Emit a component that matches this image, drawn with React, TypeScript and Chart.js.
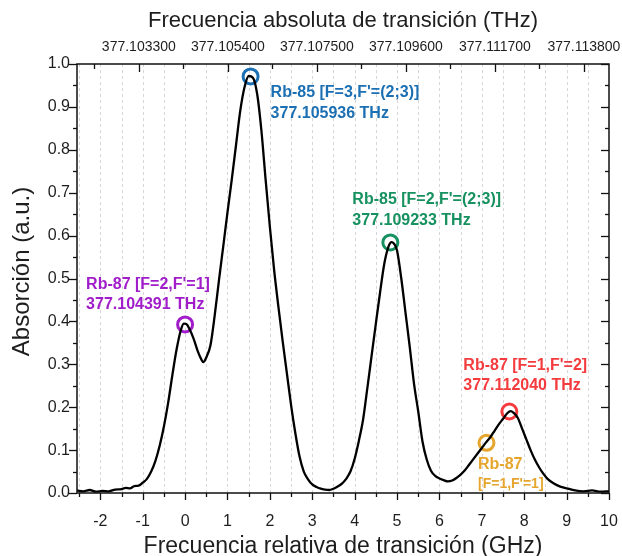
import { useEffect, useRef } from "react";
import { Chart, registerables } from "chart.js";

Chart.register(...registerables);

const FONT = "'Liberation Sans', Arial, Helvetica, sans-serif";
const INK = "#1e1e1e";

// Reference transition: Rb-87 F=2 -> F'=1 sits at 0 GHz on the relative axis.
const REF_THZ = 377.104391;
const toRelGHz = (thz: number) => (thz - REF_THZ) * 1000;

// Absorption spectrum (relative frequency in GHz, absorption in a.u.)
const relFreqGHz = [
  -2.55, -2.4, -2.25, -2.1, -1.95, -1.8, -1.65, -1.5, -1.4, -1.3, -1.2, -1.1,
  -1.0, -0.9, -0.8, -0.7, -0.6, -0.5, -0.4, -0.3, -0.2, -0.1, -0.03, 0.03,
  0.1, 0.2, 0.3, 0.38, 0.43, 0.5, 0.6, 0.7, 0.8, 0.9, 1.0, 1.1, 1.2, 1.3,
  1.4, 1.5, 1.6, 1.7, 1.8, 1.9, 2.0, 2.1, 2.2, 2.3, 2.4, 2.5, 2.6, 2.7, 2.8,
  2.9, 3.0, 3.1, 3.2, 3.3, 3.4, 3.5, 3.6, 3.7, 3.8, 3.9, 4.0, 4.1, 4.2, 4.3,
  4.4, 4.5, 4.6, 4.7, 4.8, 4.87, 4.95, 5.0, 5.1, 5.2, 5.3, 5.4, 5.5, 5.6,
  5.7, 5.8, 5.9, 6.0, 6.1, 6.2, 6.3, 6.4, 6.5, 6.6, 6.7, 6.8, 6.9, 7.0, 7.1,
  7.2, 7.3, 7.4, 7.5, 7.6, 7.68, 7.75, 7.85, 7.95, 8.05, 8.15, 8.25, 8.35,
  8.45, 8.55, 8.7, 8.85, 9.0, 9.2, 9.4, 9.6, 9.8, 10.0,
];
const absorption = [
  0.006, 0.004, 0.007, 0.003, 0.005, 0.004, 0.008, 0.009, 0.012, 0.011, 0.016, 0.017,
  0.024, 0.033, 0.05, 0.075, 0.11, 0.155, 0.21, 0.275, 0.335, 0.38, 0.395, 0.394,
  0.383, 0.36, 0.33, 0.312, 0.305, 0.316, 0.345, 0.415, 0.497, 0.575, 0.654, 0.73, 0.81, 0.89,
  0.945, 0.972, 0.968, 0.93, 0.845, 0.73, 0.62, 0.52, 0.435, 0.355, 0.28, 0.205, 0.14, 0.085, 0.05,
  0.032, 0.02, 0.014, 0.01, 0.008, 0.007, 0.01, 0.015, 0.022, 0.033, 0.05, 0.08, 0.122, 0.172, 0.245,
  0.32, 0.395, 0.468, 0.535, 0.575, 0.585, 0.578, 0.565, 0.5, 0.42, 0.34, 0.255, 0.19, 0.12,
  0.078, 0.052, 0.04, 0.034, 0.03, 0.027, 0.029, 0.035, 0.043, 0.053, 0.066, 0.079, 0.092, 0.105, 0.118,
  0.13, 0.145, 0.16, 0.173, 0.186, 0.191, 0.187, 0.175, 0.15, 0.125, 0.1, 0.078, 0.06,
  0.045, 0.033, 0.022, 0.015, 0.011, 0.006, 0.004, 0.006, 0.003, 0.004,
];

// Bottom axis labels (GHz)
const bottomTicksGHz = [-2, -1, 0, 1, 2, 3, 4, 5, 6, 7, 8, 9, 10];

// Top axis: absolute transition frequency (THz)
const topTickLabels = ["377.103300", "377.105400", "377.107500", "377.109600", "377.111700", "377.113800"];
const topTickTHz = topTickLabels.map(Number);

// Identified transitions
const peakTitles = [
  "Rb-87 [F=2,F'=1]",
  "Rb-85 [F=3,F'=(2;3)]",
  "Rb-85 [F=2,F'=(2;3)]",
  "Rb-87 [F=1,F'=2]",
  "Rb-87",
];
const peakSubtitles = ["377.104391 THz", "377.105936 THz", "377.109233 THz", "377.112040 THz", "[F=1,F'=1]"];
const peakRelGHz = [toRelGHz(377.104391), toRelGHz(377.105936), toRelGHz(377.109233), toRelGHz(377.11204), 7.11];
const peakAbsorption = [0.393, 0.971, 0.584, 0.19, 0.117];
const peakColors = ["#a11dca", "#1b6fb3", "#16915f", "#f43c3f", "#e6a52c"];

// Label placement relative to each marker (pixels): left x, first line y, second line y
const labelOffsets = [
  { dx: -99, dy1: -39.5, dy2: -20, size2: 16 },
  { dx: 20, dy1: 16.5, dy2: 37, size2: 16 },
  { dx: -38, dy1: -42.5, dy2: -21.5, size2: 16 },
  { dx: -46, dy1: -45.5, dy2: -26, size2: 16 },
  { dx: -8.5, dy1: 22, dy2: 41.5, size2: 14 },
];

const X_MIN = -2.55;
const X_MAX = 10;

const axesPlugin = {
  id: "spectrumAxes",
  beforeDatasetsDraw(chart: any) {
    const { ctx, chartArea: a, scales } = chart;
    const x = scales.x;
    ctx.save();
    ctx.strokeStyle = "#d6d6d6";
    ctx.lineWidth = 1;
    ctx.setLineDash([3, 3]);
    for (let i = -5; i < 20; i++) {
      const v = i * 0.5;
      if (v <= X_MIN || v >= X_MAX) continue;
      const px = Math.round(x.getPixelForValue(v)) + 0.5;
      ctx.beginPath();
      ctx.moveTo(px, a.top);
      ctx.lineTo(px, a.bottom);
      ctx.stroke();
    }
    ctx.restore();
  },
  afterDatasetsDraw(chart: any) {
    const { ctx, scales } = chart;
    const x = scales.x;
    const y = scales.y;
    ctx.save();
    ctx.textBaseline = "middle";
    ctx.textAlign = "left";
    peakTitles.forEach((title, i) => {
      const px = x.getPixelForValue(peakRelGHz[i]);
      const py = y.getPixelForValue(peakAbsorption[i]);
      const o = labelOffsets[i];
      ctx.fillStyle = peakColors[i];
      ctx.font = `bold 16px ${FONT}`;
      ctx.fillText(title, px + o.dx, py + o.dy1);
      ctx.font = `bold ${o.size2}px ${FONT}`;
      ctx.fillText(peakSubtitles[i], px + o.dx, py + o.dy2);
    });
    ctx.restore();
  },
  afterDraw(chart: any) {
    const { ctx, chartArea: a, scales } = chart;
    const x = scales.x;
    const y = scales.y;
    ctx.save();
    ctx.strokeStyle = "#111";
    ctx.lineWidth = 1.5;
    ctx.beginPath();
    ctx.rect(a.left, a.top, a.right - a.left, a.bottom - a.top);
    ctx.stroke();

    const tick = (x1: number, y1: number, x2: number, y2: number) => {
      ctx.beginPath();
      ctx.moveTo(x1, y1);
      ctx.lineTo(x2, y2);
      ctx.stroke();
    };
    ctx.lineWidth = 1.3;
    // bottom axis: outward, major every 1 GHz, minor every 0.5 GHz
    for (let i = -5; i <= 20; i++) {
      const v = i * 0.5;
      if (v < X_MIN) continue;
      const px = Math.round(x.getPixelForValue(v)) + 0.5;
      const len = i % 2 === 0 ? 7 : 4;
      tick(px, a.bottom, px, a.bottom + len);
    }
    // top axis: inward, major at labelled frequencies, minor halfway
    for (let k = -1; k < topTickTHz.length * 2; k++) {
      const thz = topTickTHz[0] + (k * (topTickTHz[1] - topTickTHz[0])) / 2;
      const v = toRelGHz(thz);
      if (v < X_MIN || v > X_MAX) continue;
      const px = Math.round(x.getPixelForValue(v)) + 0.5;
      const len = k % 2 === 0 ? 8 : 5;
      tick(px, a.top, px, a.top + len);
    }
    // left (outward) and right (inward) axes
    for (let i = 0; i <= 20; i++) {
      const v = i * 0.05;
      const py = Math.round(y.getPixelForValue(v)) + 0.5;
      const len = i % 2 === 0 ? 8 : 4;
      tick(a.left - len, py, a.left, py);
      tick(a.right - len, py, a.right, py);
    }

    // vertical axis title, centred slightly above the middle of the frame
    ctx.translate(22, (a.top + a.bottom) / 2 - 7);
    ctx.rotate(-Math.PI / 2);
    ctx.fillStyle = INK;
    ctx.font = `24px ${FONT}`;
    ctx.textAlign = "center";
    ctx.textBaseline = "middle";
    ctx.fillText("Absorción (a.u.)", 0, 0);
    ctx.restore();
  },
};

// Keep the plot frame fixed: edge tick labels may overhang the margins.
const noEdgePadding = (s: any) => {
  s.paddingLeft = 0;
  s.paddingRight = 0;
  s.paddingTop = 0;
  s.paddingBottom = 0;
};

export default function App() {
  const canvasRef = useRef<HTMLCanvasElement | null>(null);

  useEffect(() => {
    const canvas = canvasRef.current;
    if (!canvas) return;

    const spectrum = relFreqGHz.map((f, i) => ({ x: f, y: absorption[i] }));
    const markers = peakRelGHz.map((f, i) => ({
      label: peakTitles[i],
      data: [{ x: f, y: peakAbsorption[i] }],
      showLine: false,
      pointStyle: "circle" as const,
      pointRadius: 7.5,
      pointBorderWidth: 3,
      pointBorderColor: peakColors[i],
      pointBackgroundColor: "rgba(0,0,0,0)",
      order: 1,
    }));

    const chart = new Chart(canvas, {
      type: "scatter",
      data: {
        datasets: [
          {
            label: "Absorción",
            data: spectrum,
            showLine: true,
            borderColor: "#000",
            borderWidth: 2.3,
            pointRadius: 0,
            cubicInterpolationMode: "monotone",
            order: 0,
          } as any,
          ...markers,
        ],
      },
      options: {
        animation: false,
        responsive: false,
        layout: { padding: { right: 13, left: 0, top: 0, bottom: 0 } },
        plugins: {
          legend: { display: false },
          tooltip: { enabled: false },
        },
        scales: {
          x: {
            type: "linear",
            position: "bottom",
            min: X_MIN,
            max: X_MAX,
            grid: { display: false, drawTicks: false },
            border: { display: false },
            afterBuildTicks: (s: any) => {
              s.ticks = bottomTicksGHz.map((v) => ({ value: v }));
            },
            ticks: {
              autoSkip: false,
              maxRotation: 0,
              padding: 19,
              color: INK,
              font: { family: FONT, size: 16 },
              callback: (v: any) => String(v),
            },
            title: {
              display: true,
              text: "Frecuencia relativa de transición (GHz)",
              color: INK,
              font: { family: FONT, size: 23, lineHeight: 1 },
              padding: { top: 0, bottom: -2 },
            },
            afterFit: (s: any) => {
              s.height = 63;
              noEdgePadding(s);
            },
          },
          x2: {
            type: "linear",
            position: "top",
            min: X_MIN,
            max: X_MAX,
            grid: { display: false, drawTicks: false },
            border: { display: false },
            afterBuildTicks: (s: any) => {
              s.ticks = topTickTHz.map((t) => ({ value: toRelGHz(t) }));
            },
            ticks: {
              autoSkip: false,
              maxRotation: 0,
              padding: 8,
              color: INK,
              font: { family: FONT, size: 14 },
              callback: (_v: any, i: number) => topTickLabels[i],
            },
            title: {
              display: true,
              text: "Frecuencia absoluta de transición (THz)",
              color: INK,
              font: { family: FONT, size: 22, lineHeight: 1 },
              padding: { top: 10, bottom: 0 },
            },
            afterFit: (s: any) => {
              s.height = 64;
              noEdgePadding(s);
            },
          },
          y: {
            type: "linear",
            position: "left",
            min: 0,
            max: 1,
            grid: { display: false, drawTicks: false },
            border: { display: false },
            ticks: {
              stepSize: 0.1,
              padding: 7,
              color: INK,
              font: { family: FONT, size: 16 },
              callback: (v: any) => Number(v).toFixed(1),
            },
            title: { display: false },
            afterFit: (s: any) => {
              s.width = 77;
              noEdgePadding(s);
            },
          },
        },
      } as any,
      plugins: [axesPlugin],
    });

    return () => chart.destroy();
  }, []);

  return (
    <div style={{ position: "absolute", left: 0, top: 0, width: 622, height: 556, background: "#fff" }}>
      <canvas ref={canvasRef} width={622} height={556} />
    </div>
  );
}
